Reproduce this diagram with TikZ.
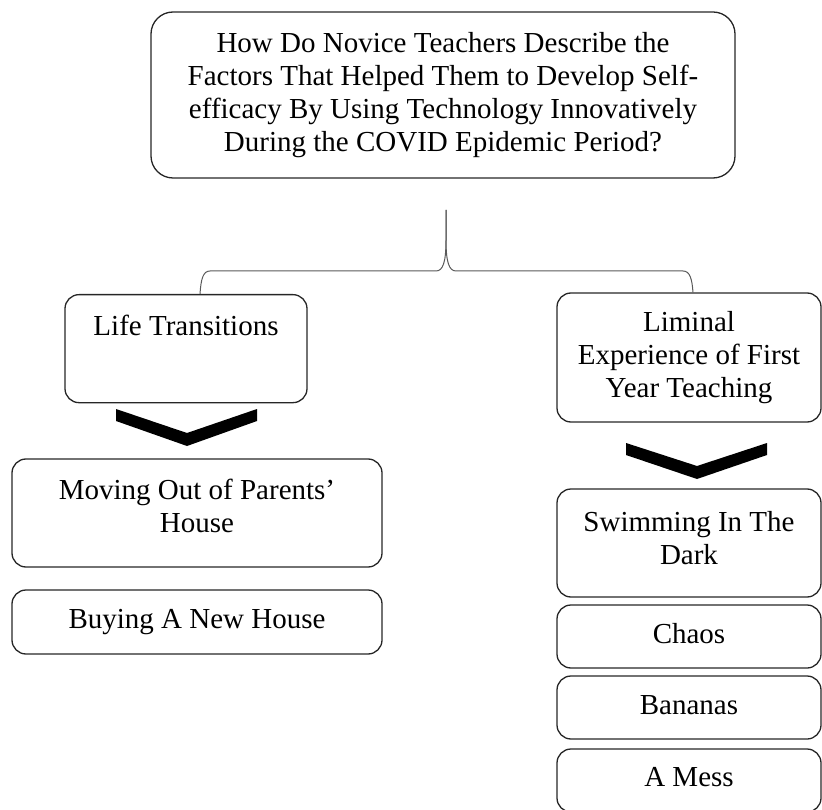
\documentclass[tikz,border=0pt]{standalone}
\usepackage{fontspec}
\setmainfont{Liberation Serif}
\begin{document}
\begin{tikzpicture}[x=1pt,y=1pt,
  box/.style={draw=black!85, line width=1.3pt, rounded corners=14pt, align=center,
              font=\fontsize{29}{33}\selectfont, inner sep=0pt},
  brace/.style={draw=black!65, line width=1pt},
  chev/.style={fill=black}]
\useasboundingbox (0,0) rectangle (822,-810);
\node[box, rounded corners=22pt, minimum width=584, minimum height=166] (q) at (443,-95)
  {How Do Novice Teachers Describe the\\Factors That Helped Them to Develop Self-\\efficacy By Using Technology Innovatively\\During the COVID Epidemic Period?};
\node[box, anchor=north, minimum width=242, text height=41, text depth=67] (lt) at (186,-294) {Life Transitions};
\node[box, minimum width=264, minimum height=129] (lim) at (689,-357.5) {Liminal\\Experience of First\\Year Teaching};
\node[box, minimum width=370, minimum height=108] (mo) at (197,-513) {Moving Out of Parents’\\House\rule[-14pt]{0pt}{0pt}};
\node[box, minimum width=370, minimum height=64] (buy) at (197,-622) {Buying A New House\rule[-7pt]{0pt}{0pt}};
\node[box, minimum width=264, minimum height=108] (swim) at (689,-543) {Swimming In The\\Dark\rule[-10pt]{0pt}{0pt}};
\node[box, minimum width=264, minimum height=63] (chaos) at (689,-636.5) {Chaos\rule[-7pt]{0pt}{0pt}};
\node[box, minimum width=264, minimum height=63] (ban) at (689,-707.5) {Bananas\rule[-5pt]{0pt}{0pt}};
\node[box, minimum width=264, minimum height=63] (mess) at (689,-780.5) {A Mess\rule[-7pt]{0pt}{0pt}};
% brace
\coordinate (tip) at (446,-210);
\coordinate (bl) at (lt.north -| 200,0);
\coordinate (br) at (lim.north -| 693,0);
\draw[brace] (bl) .. controls (201,-279) and (203,-271) .. (210,-271) -- (436,-271)
  .. controls (443,-271) and (446,-262) .. (446,-240) -- (tip);
\draw[brace] (tip) -- (446,-240) .. controls (446,-262) and (449,-271) .. (456,-271)
  -- (683,-271) .. controls (690,-271) and (692,-279) .. (br);
% chevrons
\fill[chev] (116,-409) -- (187,-433) -- (257,-409) -- (257,-421) -- (187,-446) -- (116,-421) -- cycle;
\fill[chev] (626,-443) -- (697,-466) -- (767,-443) -- (767,-455) -- (697,-479) -- (626,-455) -- cycle;
\end{tikzpicture}
\end{document}
